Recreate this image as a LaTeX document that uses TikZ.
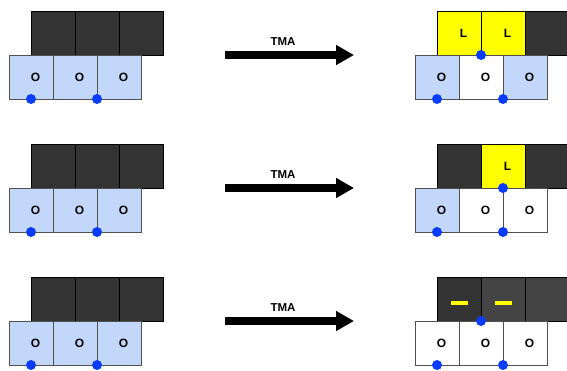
\documentclass[tikz,border=0pt]{standalone}
\usepackage{fontspec}
\setmainfont{Liberation Sans}
\usetikzlibrary{arrows.meta,calc}
\definecolor{siteblue}{HTML}{C3D7FA}
\definecolor{darkcell}{HTML}{333333}
\definecolor{greycell}{HTML}{444444}
\definecolor{ligand}{HTML}{FFFF00}
\definecolor{dotblue}{HTML}{0A3CFF}
\definecolor{cellline}{HTML}{505050}
\tikzset{
  cell/.style={draw=cellline, line width=0.9pt, minimum width=44pt, minimum height=44pt,
    inner sep=0pt, outer sep=0pt, anchor=north west},
  ocell/.style={cell, fill=siteblue},
  wcell/.style={cell, fill=white},
  dcell/.style={cell, draw=black, fill=darkcell},
  gcell/.style={cell, draw=black, fill=greycell},
  ycell/.style={cell, draw=black, fill=ligand},
  lbl/.style={xshift=4.5pt, font=\fontsize{12}{14}\selectfont\bfseries, inner sep=0pt},
  vac/.style={circle, fill=dotblue, inner sep=0pt, minimum size=10pt},
  ldash/.style={fill=ligand, draw=none, minimum width=17pt, minimum height=3.6pt, inner sep=0pt},
  tma/.style={line width=7.5pt, -{Triangle[length=18pt,width=19pt]}},
  tmalbl/.style={font=\fontsize{11.5}{13}\selectfont\bfseries}
}
\begin{document}
\begin{tikzpicture}[x=1pt, y=-1pt]
\useasboundingbox (0,0) rectangle (567,370);
\clip (0,0) rectangle (567,370);

% ---- left column: three identical starting surfaces ----
\foreach \r/\y in {1/11, 2/144, 3/277} {
  \node[dcell] (lt\r a) at (31,\y) {};
  \node[dcell] (lt\r b) at (75,\y) {};
  \node[dcell] (lt\r c) at (119,\y) {};
  \node[ocell] (lb\r a) at (9,\y+44) {};
  \node[ocell] (lb\r b) at (53,\y+44) {};
  \node[ocell] (lb\r c) at (97,\y+44) {};
  \node[lbl] at (lb\r a.center) {O};
  \node[lbl] at (lb\r b.center) {O};
  \node[lbl] at (lb\r c.center) {O};
  \node[vac] (lv\r a) at (lb\r a.south) {};
  \node[vac] (lv\r b) at (lb\r b.south east) {};
}

% ---- TMA arrows ----
\foreach \r/\y in {1/55, 2/188, 3/321} {
  \coordinate (as\r) at (225,\y);
  \coordinate (ae\r) at (354,\y);
  \draw[tma] (as\r) -- (ae\r);
  \node[tmalbl] (al\r) at (283,\y-13) {TMA};
}

% ---- right column, row 1: two ligands ----
\node[ycell] (rt1a) at (437,11) {};
\node[ycell] (rt1b) at (481,11) {};
\node[dcell] (rt1c) at (525,11) {};
\node[ocell] (rb1a) at (415,55) {};
\node[wcell] (rb1b) at (459,55) {};
\node[ocell] (rb1c) at (503,55) {};
\node[lbl] at (rt1a.center) {L};
\node[lbl] at (rt1b.center) {L};
\foreach \n in {a,b,c} \node[lbl] at (rb1\n.center) {O};
\node[vac] (rv1t) at (rt1a.south east) {};
\node[vac] (rv1a) at (rb1a.south) {};
\node[vac] (rv1b) at (rb1b.south east) {};

% ---- right column, row 2: one ligand ----
\node[dcell] (rt2a) at (437,144) {};
\node[ycell] (rt2b) at (481,144) {};
\node[dcell] (rt2c) at (525,144) {};
\node[ocell] (rb2a) at (415,188) {};
\node[wcell] (rb2b) at (459,188) {};
\node[wcell] (rb2c) at (503,188) {};
\node[lbl] at (rt2b.center) {L};
\foreach \n in {a,b,c} \node[lbl] at (rb2\n.center) {O};
\node[vac] (rv2t) at (rt2b.south) {};
\node[vac] (rv2a) at (rb2a.south) {};
\node[vac] (rv2b) at (rb2b.south east) {};

% ---- right column, row 3: bare sites ----
\node[dcell] (rt3a) at (437,277) {};
\node[gcell] (rt3b) at (481,277) {};
\node[gcell] (rt3c) at (525,277) {};
\node[wcell] (rb3a) at (415,321) {};
\node[wcell] (rb3b) at (459,321) {};
\node[wcell] (rb3c) at (503,321) {};
\node[ldash] (d3a) at ($(rt3a.center)+(0.5,4)$) {};
\node[ldash] (d3b) at ($(rt3b.center)+(0.5,4)$) {};
\foreach \n in {a,b,c} \node[lbl] at (rb3\n.center) {O};
\node[vac] (rv3t) at (rt3a.south east) {};
\node[vac] (rv3a) at (rb3a.south) {};
\node[vac] (rv3b) at (rb3b.south east) {};
\end{tikzpicture}
\end{document}
